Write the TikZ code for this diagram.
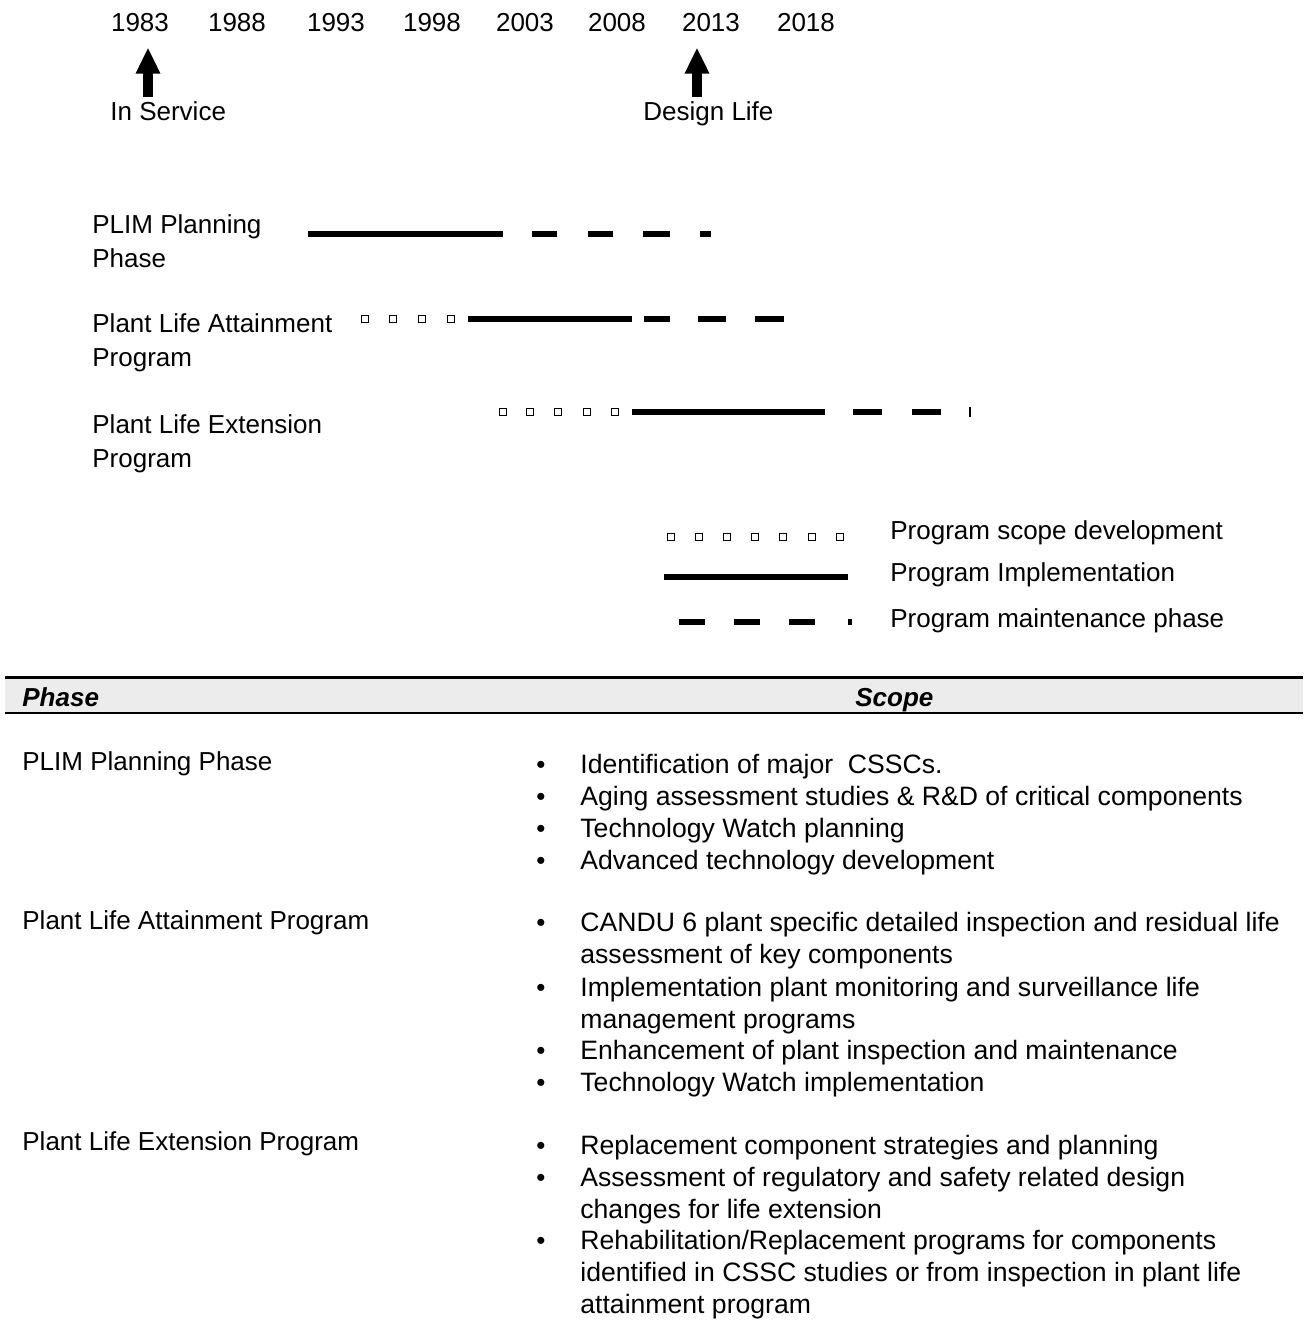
\documentclass[tikz,border=0pt]{standalone}
\usepackage{fontspec}
\setmainfont{Liberation Sans}
\usetikzlibrary{arrows.meta}
\tikzset{
    plain-text/.style = {inner sep=0pt, anchor=base west, font=\fontsize{13}{16}\selectfont},
    year-label/.style = {plain-text, anchor=base},
    phase-label/.style = {plain-text, align=left, font=\fontsize{13}{17}\selectfont},
    scope-item/.style = {plain-text, align=left, font=\fontsize{13.3}{16}\selectfont},
    bullet-mark/.style = {plain-text, anchor=base},
    head-label/.style = {plain-text, font=\fontsize{13}{16}\selectfont\bfseries\itshape},
    impl-line/.style = {line width=3pt},
    maint-line/.style = {line width=3pt},
    scope-square/.style = {line width=0.7pt},
    big-arrow/.style = {line width=5pt, -{Triangle[width=11.5pt, length=13pt]}},
}
\begin{document}
\begin{tikzpicture}[x=0.5pt, y=-0.5pt]
\useasboundingbox (0,0) rectangle (1311,1341);

% time scale
\foreach \yr/\x in {1983/140, 1988/237, 1993/336, 1998/432, 2003/525, 2008/617, 2013/711, 2018/806}
    \node[year-label] (y\yr) at (\x,31) {\yr};
\node[plain-text] (inservice) at (110,120) {In Service};
\node[plain-text] (designlife) at (643,120) {Design Life};
\draw[big-arrow, shorten <=2pt, shorten >=8pt] ([xshift=4pt]y1983.south |- inservice.north) -- ([xshift=4pt]y1983.south);
\draw[big-arrow, shorten <=2pt, shorten >=8pt] ([xshift=-7pt]y2013.south |- designlife.north) -- ([xshift=-7pt]y2013.south);

% programs (anchor = baseline of the last line)
\node[phase-label] (plim) at (92,267) {PLIM Planning\\Phase};
\node[phase-label] (plap) at (92,366) {Plant Life Attainment\\Program};
\node[phase-label] (plep) at (92,467) {Plant Life Extension\\Program};

\draw[impl-line] (308,234) -- (503,234);
\foreach \a/\b in {532/557, 588/613, 643/670, 700/711}
    \draw[maint-line] (\a,234) -- (\b,234);

\foreach \x in {365, 393, 422, 451}
    \draw[scope-square] (\x-3.5,315.5) rectangle ++(7,7);
\draw[impl-line] (468,319) -- (632,319);
\foreach \a/\b in {644/670, 698/726, 755/784}
    \draw[maint-line] (\a,319) -- (\b,319);

\foreach \x in {503, 530, 558, 587, 615}
    \draw[scope-square] (\x-3.5,408.5) rectangle ++(7,7);
\draw[impl-line] (632,412) -- (825,412);
\foreach \a/\b in {853/882, 912/941}
    \draw[maint-line] (\a,412) -- (\b,412);
\draw[line width=1pt] (970,407) -- (970,417);

% legend
\foreach \x in {671, 699, 727, 755, 783, 812, 840}
    \draw[scope-square] (\x-3.5,533.5) rectangle ++(7,7);
\draw[impl-line] (664,577) -- (848,577);
\foreach \a/\b in {679/705, 734/760, 789/815, 848/852}
    \draw[maint-line] (\a,622) -- (\b,622);
\node[plain-text] (leg-scope) at (890,539) {Program scope development};
\node[plain-text] (leg-impl) at (890,581) {Program Implementation};
\node[plain-text] (leg-maint) at (890,627) {Program maintenance phase};

% table header
\fill[gray!15] (5,677) rectangle (1303,713);
\draw[line width=1.5pt] (5,677) -- (1303,677);
\draw[line width=1pt] (5,713) -- (1303,713);
\node[head-label] (h-phase) at (22,706) {Phase};
\node[head-label] (h-scope) at (855,706) {Scope};

% table rows
\node[plain-text] (t-plim) at (22,770) {PLIM Planning Phase};
\node[plain-text] (t-plap) at (22,929) {Plant Life Attainment Program};
\node[plain-text] (t-plep) at (22,1150) {Plant Life Extension Program};

\foreach \y in {773, 805, 837, 869, 931, 996, 1059, 1091, 1154, 1186, 1249}
    \node[bullet-mark] at (541,\y) {\textbullet};

\node[scope-item] (s1) at (580,773) {Identification of major\ \ CSSCs.};
\node[scope-item] (s2) at (580,805) {Aging assessment studies \& R\&D of critical components};
\node[scope-item] (s3) at (580,837) {Technology Watch planning};
\node[scope-item] (s4) at (580,869) {Advanced technology development};

\node[scope-item] (s5) at (580,963) {CANDU 6 plant specific detailed inspection and residual life\\assessment of key components};
\node[scope-item] (s6) at (580,1028) {Implementation plant monitoring and surveillance life\\management programs};
\node[scope-item] (s7) at (580,1059) {Enhancement of plant inspection and maintenance};
\node[scope-item] (s8) at (580,1091) {Technology Watch implementation};

\node[scope-item] (s9) at (580,1154) {Replacement component strategies and planning};
\node[scope-item] (s10) at (580,1218) {Assessment of regulatory and safety related design\\changes for life extension};
\node[scope-item] (s11) at (580,1313) {Rehabilitation/Replacement programs for components\\identified in CSSC studies or from inspection in plant life\\attainment program};
\end{tikzpicture}
\end{document}
